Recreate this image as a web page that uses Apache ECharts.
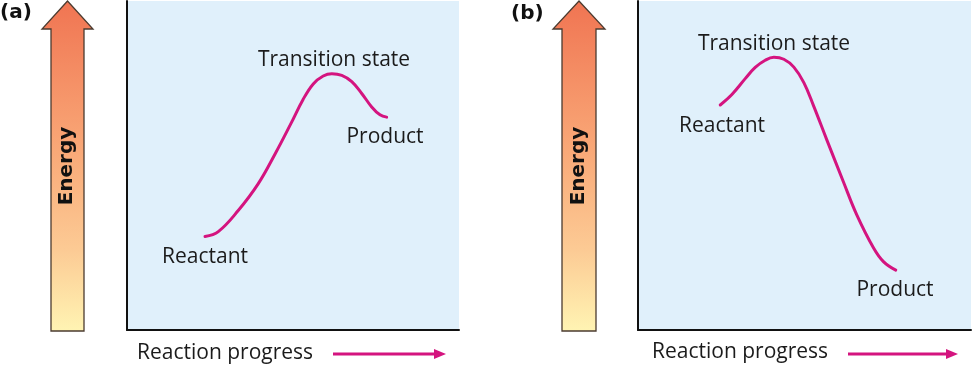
<!DOCTYPE html>
<html>
<head>
<meta charset="utf-8">
<script src="https://cdn.jsdelivr.net/npm/echarts@6/dist/echarts.min.js"></script>
<style>
html,body{margin:0;padding:0;background:#fff;}
#chart{width:972px;height:366px;}
</style>
</head>
<body>
<div id="chart"></div>
<script>
// Panel (a): endergonic reaction (reaction progress 0-100, energy 0-100)
const progressA = [23.5, 27.5, 33.5, 39.5, 44.6, 49.4, 53.0, 56.1, 59.1, 61.7, 64.7, 67.7, 70.7, 73.7, 76.2, 78.2];
const energyA   = [28.4, 29.9, 36.3, 44.4, 53.5, 62.8, 70.0, 74.8, 77.2, 77.9, 77.4, 75.5, 71.9, 67.8, 65.4, 64.7];
// Panel (b): exergonic reaction
const progressB = [24.7, 28.2, 32.2, 35.2, 38.2, 40.8, 43.8, 46.8, 49.8, 52.7, 56.7, 61.7, 65.7, 70.7, 73.7, 77.4];
const energyB   = [68.4, 71.6, 76.4, 79.8, 82.0, 82.9, 82.3, 79.9, 75.2, 68.2, 57.8, 45.0, 35.0, 25.0, 20.8, 18.2];
const panelTags = ['(a)', '(b)'];
const stateLabels = ['Reactant', 'Transition state', 'Product'];
const xTitle = 'Reaction progress';
const yTitle = 'Energy';

const MAGENTA = '#d4147f';
const TEXT = '#1b1b1b';
const FONT = '"Open Sans", "DejaVu Sans", sans-serif';
const BOLDFONT = '"DejaVu Sans", Verdana, sans-serif';

const chart = echarts.init(document.getElementById('chart'), null, {renderer: 'canvas'});

function zip(xs, ys){ return xs.map((x, i) => [x, ys[i]]); }

const axisLine = {show: true, onZero: false, lineStyle: {color: '#111', width: 2}};
function xAx(gi){ return {type: 'value', gridIndex: gi, min: 0, max: 100, axisLine: axisLine, axisTick: {show: false}, axisLabel: {show: false}, splitLine: {show: false}}; }
function yAx(gi){ return {type: 'value', gridIndex: gi, min: 0, max: 100, axisLine: axisLine, axisTick: {show: false}, axisLabel: {show: false}, splitLine: {show: false}}; }

const grad = new echarts.graphic.LinearGradient(0, 0, 0, 1, [
  {offset: 0, color: '#f07452'},
  {offset: 0.45, color: '#f9a877'},
  {offset: 0.75, color: '#fcca94'},
  {offset: 1, color: '#fff4b3'}
]);

function energyArrow(x0, x1, hx0, hx1, tipX){
  return {
    type: 'polygon',
    shape: {points: [[x0, 331], [x0, 29], [hx0, 29], [tipX, 1], [hx1, 29], [x1, 29], [x1, 331]]},
    style: {fill: grad, stroke: '#4b3b30', lineWidth: 1.3},
    z: 1
  };
}
function txt(x, y, s, opts){
  return Object.assign({type: 'text', x: x, y: y, z: 10},
    {style: Object.assign({text: s, fontSize: 21, fontFamily: FONT, fontWeight: 'normal', fill: TEXT, align: 'center', verticalAlign: 'middle'}, opts || {})});
}
function progArrow(x0, x1, y){
  return [
    {type: 'line', shape: {x1: x0, y1: y, x2: x1 - 10, y2: y}, style: {stroke: MAGENTA, lineWidth: 3}, z: 5},
    {type: 'polygon', shape: {points: [[x1 - 12, y - 5], [x1, y], [x1 - 12, y + 5]]}, style: {fill: MAGENTA}, z: 5}
  ];
}
const boldOpts = {fontSize: 20, fontWeight: 'bold', fontFamily: BOLDFONT, fill: '#111'};

const graphics = [
  energyArrow(51, 84, 42, 93, 67.5),
  energyArrow(562, 596, 553, 605, 579),
  Object.assign(txt(67, 166, yTitle, boldOpts), {rotation: Math.PI / 2}),
  Object.assign(txt(579, 166, yTitle, boldOpts), {rotation: Math.PI / 2}),
  txt(0, 13, panelTags[0], Object.assign({}, boldOpts, {fontSize: 20, align: 'left'})),
  txt(511, 14, panelTags[1], Object.assign({}, boldOpts, {fontSize: 20, align: 'left'})),
  // panel (a) labels
  txt(334, 60, stateLabels[1]),
  txt(385, 137, stateLabels[2]),
  txt(205, 257, stateLabels[0]),
  txt(137, 353, xTitle, {align: 'left'}),
  // panel (b) labels
  txt(774, 44, stateLabels[1]),
  txt(722, 126, stateLabels[0]),
  txt(895, 290, stateLabels[2]),
  txt(652, 352, xTitle, {align: 'left'})
].concat(progArrow(333, 446, 354)).concat(progArrow(848, 958, 354));

const option = {
  animation: false,
  backgroundColor: '#ffffff',
  grid: [
    {left: 127, top: 1, width: 332, height: 329, show: true, backgroundColor: '#e0f0fb', borderWidth: 0},
    {left: 638, top: 1, width: 333, height: 329, show: true, backgroundColor: '#e0f0fb', borderWidth: 0}
  ],
  xAxis: [xAx(0), xAx(1)],
  yAxis: [yAx(0), yAx(1)],
  series: [
    {type: 'line', xAxisIndex: 0, yAxisIndex: 0, data: zip(progressA, energyA), smooth: 0.4, symbol: 'none',
     lineStyle: {color: MAGENTA, width: 3, cap: 'round', join: 'round'}},
    {type: 'line', xAxisIndex: 1, yAxisIndex: 1, data: zip(progressB, energyB), smooth: 0.4, symbol: 'none',
     lineStyle: {color: MAGENTA, width: 3, cap: 'round', join: 'round'}}
  ],
  graphic: graphics
};
chart.setOption(option);
</script>
</body>
</html>
